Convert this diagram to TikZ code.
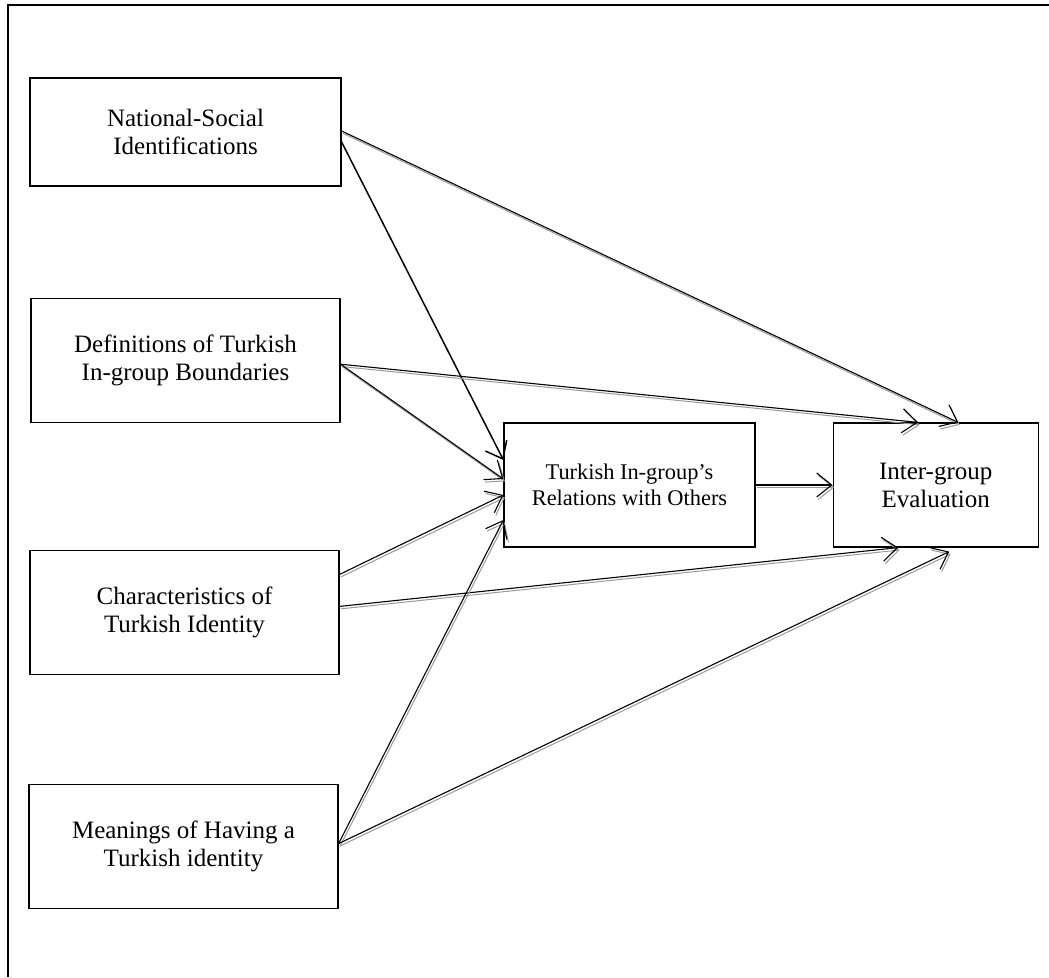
\documentclass[tikz,border=0pt]{standalone}
\usepackage{fontspec}
\setmainfont{Liberation Serif}
\usetikzlibrary{arrows.meta,positioning,calc}
\definecolor{shadowGray}{HTML}{9A9A9A}
\tikzset{
  factor/.style={draw, line width=1.2pt, fill=white, minimum width=309pt, minimum height=124pt,
    align=center, inner sep=0pt, font=\fontsize{25}{28}\selectfont},
  link/.style={-{Straight Barb[length=15pt,width=24pt]}, line width=1.1pt,
    preaction={draw=shadowGray, line width=1pt, transform canvas={shift={(1.5pt,-2.4pt)}}}},
}

\begin{document}
\begin{tikzpicture}[x=1pt, y=-1pt]
                \useasboundingbox (0,0) rectangle (1049,977);
                \draw[line width=1.2pt] (8,977) -- (8,5) -- (1049,5);
                \node[factor, minimum width=311pt, minimum height=108pt] (social) at (185.5,132) {National-Social\\Identifications};
                \node[factor, below=111pt of social] (bounds) {Definitions of Turkish\\In-group Boundaries};
                \node[factor, below=127pt of bounds, xshift=-1pt] (traits) {Characteristics of\\Turkish Identity};
                \node[factor, below=109pt of traits, xshift=-1pt] (meanings) {Meanings of Having a\\Turkish identity};
                \node[factor, minimum width=251pt, font=\fontsize{22.4}{26}\selectfont] (relations) at (629.5,485) {Turkish In-group’s\\Relations with Others};
                \node[factor, minimum width=205pt, right=77pt of relations] (evaluation) {Inter-group\\Evaluation};
                \draw[link] ([yshift=1pt]social.east) -- ([xshift=22.5pt]evaluation.north);
                \draw[-{Straight Barb[length=15pt,width=24pt]}, line width=1.5pt] ([yshift=-10pt]social.east) -- ([yshift=25pt]relations.west);
                \draw[link] ([yshift=-4pt]bounds.east) -- ([xshift=-17.5pt]evaluation.north);
                \draw[link] ([yshift=-4pt]bounds.east) -- ([yshift=6pt]relations.west);
                \draw[link] ([yshift=38pt]traits.east) -- ([yshift=-10pt]relations.west);
                \draw[link] ([yshift=6pt]traits.east) -- ([xshift=-37.5pt]evaluation.south);
                \draw[link] ([yshift=3pt]meanings.east) -- ([yshift=-35pt]relations.west);
                \draw[link] ([yshift=3pt]meanings.east) -- ([xshift=13.5pt,yshift=-4pt]evaluation.south);
                \draw[link] (relations) -- (evaluation);
            \end{tikzpicture}
\end{document}
